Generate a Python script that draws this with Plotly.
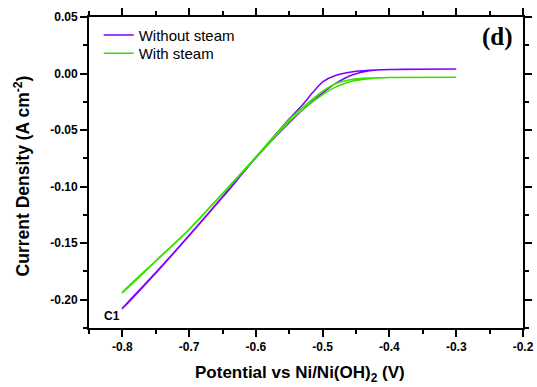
import plotly.graph_objects as go

# Without steam (forward + return scan)
x_wo = [-0.30, -0.38, -0.42, -0.45, -0.48, -0.50, -0.515, -0.53, -0.55, -0.575, -0.60, -0.65, -0.70, -0.75, -0.80,
        -0.80, -0.75, -0.70, -0.65, -0.60, -0.575, -0.55, -0.53, -0.505, -0.48, -0.455, -0.43, -0.40, -0.30]
y_wo = [0.0040, 0.0038, 0.0032, 0.0020, -0.0015, -0.0074, -0.0168, -0.0275, -0.040, -0.057, -0.074, -0.109, -0.143, -0.176, -0.2076,
        -0.2080, -0.1765, -0.1435, -0.1095, -0.0745, -0.0585, -0.0435, -0.032, -0.0195, -0.0085, -0.0010, 0.0025, 0.0036, 0.0041]

# With steam
x_w = [-0.30, -0.40, -0.43, -0.455, -0.48, -0.505, -0.53, -0.55, -0.575, -0.60, -0.65, -0.70, -0.75, -0.80,
       -0.80, -0.75, -0.70, -0.65, -0.60, -0.55, -0.53, -0.505, -0.48, -0.455, -0.43, -0.40, -0.30]
y_w = [-0.0033, -0.0034, -0.0039, -0.0050, -0.0088, -0.0177, -0.030, -0.0405, -0.057, -0.0735, -0.106, -0.1376, -0.1655, -0.1935,
       -0.1940, -0.1660, -0.1380, -0.1065, -0.0745, -0.0425, -0.032, -0.0206, -0.0118, -0.0066, -0.0045, -0.0036, -0.0034]

x_ticks = [-0.8, -0.7, -0.6, -0.5, -0.4, -0.3, -0.2]
x_labels = ["-0.8", "-0.7", "-0.6", "-0.5", "-0.4", "-0.3", "-0.2"]
y_ticks = [0.05, 0.00, -0.05, -0.10, -0.15, -0.20]
y_labels = ["0.05", "0.00", "-0.05", "-0.10", "-0.15", "-0.20"]

SANS = "Liberation Sans, Arial"

fig = go.Figure()
fig.add_trace(go.Scatter(x=x_wo, y=y_wo, mode="lines", name="Without steam", legend="legend",
                         line=dict(color="#7F00FF", width=1.5, shape="spline", smoothing=0.6)))
fig.add_trace(go.Scatter(x=x_w, y=y_w, mode="lines", name="With steam", legend="legend2",
                         line=dict(color="#3ADF00", width=1.5, shape="spline", smoothing=0.6)))

axis_common = dict(showline=True, linecolor="black", linewidth=2, mirror="ticks",
                   ticks="outside", ticklen=7, tickwidth=1.5, tickcolor="black",
                   showgrid=False, zeroline=False, automargin=False,
                   tickfont=dict(family=SANS, size=12, color="black"))

fig.update_xaxes(range=[-0.85, -0.2], tickvals=x_ticks, ticktext=["<b>%s</b>" % t for t in x_labels],
                 minor=dict(ticks="outside", dtick=0.05, tick0=-0.85, ticklen=4, tickwidth=1.5, tickcolor="black"),
                 **axis_common)
fig.update_yaxes(range=[-0.225, 0.05], tickvals=y_ticks, ticktext=["<b>%s</b>" % t for t in y_labels],
                 minor=dict(ticks="outside", dtick=0.025, tick0=0, ticklen=4, tickwidth=1.5, tickcolor="black"),
                 **axis_common)

# axis titles
fig.add_annotation(text="<b>Potential vs Ni/Ni(OH)<sub>2</sub> (V)</b>", xref="paper", yref="paper",
                   x=0.486, y=-0.148, xanchor="center", yanchor="middle", showarrow=False,
                   font=dict(family=SANS, size=17, color="black"))
fig.add_annotation(text="<b>Current Density (A cm<sup>-2</sup>)</b>", xref="paper", yref="paper",
                   x=-0.154, y=0.488, xanchor="center", yanchor="middle", showarrow=False, textangle=-90,
                   font=dict(family=SANS, size=17.5, color="black"))

fig.add_annotation(text="<b>(d)</b>", xref="paper", yref="paper", x=0.982, y=0.988,
                   xanchor="right", yanchor="top", showarrow=False,
                   font=dict(family="Liberation Serif, Times New Roman", size=25, color="black"))
fig.add_annotation(text="<b>C1</b>", x=-0.8005, y=-0.2146, xanchor="right", yanchor="middle",
                   showarrow=False, font=dict(family=SANS, size=12, color="black"))

leg_common = dict(xanchor="left", yanchor="middle", bgcolor="rgba(0,0,0,0)",
                  font=dict(family=SANS, size=15, color="black"), itemwidth=30)
fig.update_layout(width=537, height=387, margin=dict(l=89, r=14, t=17, b=59, autoexpand=False),
                  plot_bgcolor="white", paper_bgcolor="white",
                  legend=dict(x=0.0223, y=0.941, **leg_common),
                  legend2=dict(x=0.0223, y=0.883, **leg_common),
                  showlegend=True)

fig.write_html("out.html", config={"displayModeBar": False},
               post_script="document.body.style.margin='0';")
